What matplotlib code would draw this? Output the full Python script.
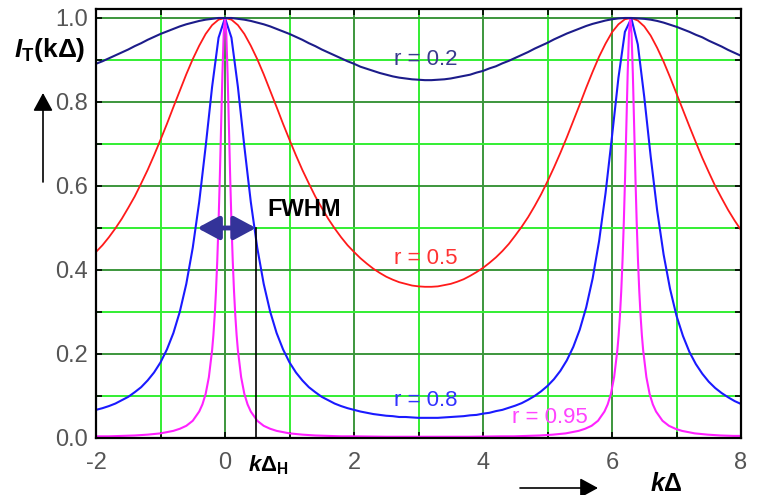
import matplotlib
matplotlib.use("Agg")
import matplotlib.pyplot as plt
import numpy as np
from matplotlib.patches import FancyArrowPatch

plt.rcParams['font.family'] = ['Liberation Sans', 'DejaVu Sans']
plt.rcParams['axes.unicode_minus'] = False
plt.rcParams['mathtext.fontset'] = 'custom'
plt.rcParams['mathtext.rm'] = 'Liberation Sans'
plt.rcParams['mathtext.it'] = 'Liberation Sans:italic'
plt.rcParams['mathtext.bf'] = 'Liberation Sans:bold'
plt.rcParams['mathtext.bfit'] = 'Liberation Sans:bold:italic'

# sample positions (k*Delta) for the three broader curves
k_delta = np.round(np.arange(-2.0, 8.05, 0.1), 1)

t_r02 = [0.891, 0.897, 0.904, 0.911, 0.918, 0.925, 0.933, 0.940, 0.948, 0.955,
         0.962, 0.968, 0.974, 0.980, 0.985, 0.989, 0.993, 0.996, 0.998, 1.000,
         1.000, 1.000, 0.998, 0.996, 0.993, 0.989, 0.985, 0.980, 0.974, 0.968,
         0.962, 0.955, 0.948, 0.940, 0.933, 0.925, 0.918, 0.911, 0.904, 0.897, 0.891,
         0.884, 0.879, 0.874, 0.869, 0.865, 0.861, 0.858, 0.856, 0.854, 0.853,
         0.852, 0.852, 0.853, 0.854, 0.856, 0.859, 0.862, 0.865, 0.870, 0.874,
         0.880, 0.885, 0.892, 0.898, 0.905, 0.912, 0.919, 0.927, 0.934, 0.941,
         0.949, 0.956, 0.963, 0.969, 0.975, 0.981, 0.986, 0.990, 0.994, 0.997,
         0.999, 1.000, 1.000, 0.999, 0.998, 0.996, 0.993, 0.989, 0.984, 0.979,
         0.973, 0.967, 0.960, 0.954, 0.946, 0.939, 0.932, 0.924, 0.917, 0.910]

t_r05 = [0.443, 0.459, 0.478, 0.499, 0.522, 0.548, 0.575, 0.606, 0.638, 0.673,
         0.710, 0.748, 0.788, 0.827, 0.866, 0.902, 0.934, 0.962, 0.983, 0.996,
         1.000, 0.996, 0.983, 0.962, 0.934, 0.902, 0.866, 0.827, 0.788, 0.748,
         0.710, 0.673, 0.638, 0.606, 0.575, 0.548, 0.522, 0.499, 0.478, 0.459, 0.443,
         0.428, 0.415, 0.403, 0.393, 0.384, 0.377, 0.371, 0.367, 0.363, 0.361,
         0.360, 0.360, 0.361, 0.364, 0.367, 0.372, 0.378, 0.386, 0.395, 0.405,
         0.417, 0.430, 0.445, 0.462, 0.482, 0.503, 0.526, 0.552, 0.580, 0.611,
         0.644, 0.679, 0.716, 0.755, 0.794, 0.834, 0.872, 0.908, 0.939, 0.966,
         0.985, 0.997, 1.000, 0.994, 0.980, 0.958, 0.929, 0.896, 0.859, 0.820,
         0.781, 0.742, 0.704, 0.667, 0.633, 0.600, 0.571, 0.543, 0.518, 0.495]

t_r08 = [0.067, 0.071, 0.076, 0.082, 0.090, 0.098, 0.109, 0.121, 0.137, 0.156,
         0.180, 0.211, 0.250, 0.301, 0.367, 0.453, 0.562, 0.694, 0.836, 0.953,
         1.000, 0.953, 0.836, 0.694, 0.562, 0.453, 0.367, 0.301, 0.250, 0.211,
         0.180, 0.156, 0.137, 0.121, 0.109, 0.098, 0.090, 0.082, 0.076, 0.071, 0.067,
         0.063, 0.060, 0.057, 0.055, 0.053, 0.052, 0.050, 0.050, 0.049, 0.048,
         0.048, 0.048, 0.048, 0.049, 0.050, 0.051, 0.052, 0.054, 0.055, 0.058,
         0.060, 0.064, 0.067, 0.072, 0.077, 0.083, 0.091, 0.100, 0.111, 0.124,
         0.140, 0.160, 0.185, 0.217, 0.258, 0.311, 0.380, 0.469, 0.583, 0.718,
         0.858, 0.967, 0.999, 0.937, 0.812, 0.670, 0.542, 0.437, 0.355, 0.291,
         0.243, 0.205, 0.176, 0.153, 0.134, 0.119, 0.107, 0.097, 0.088, 0.081]

# r = 0.95 needs finer sampling around the narrow peaks
k_delta_95 = [-2.0, -1.8, -1.6, -1.4, -1.2, -1.0, -0.9, -0.8, -0.7, -0.6, -0.5, -0.4,
              -0.35, -0.3, -0.25, -0.2, -0.18, -0.16, -0.14, -0.12, -0.1, -0.08, -0.06,
              -0.04, -0.02, 0.0, 0.02, 0.04, 0.06, 0.08, 0.1, 0.12, 0.14, 0.16, 0.18, 0.2,
              0.25, 0.3, 0.35, 0.4, 0.5, 0.6, 0.7, 0.8, 0.9, 1.0, 1.2, 1.4, 1.6, 1.8, 2.0,
              2.5, 3.0,
              3.283, 3.783, 4.283, 4.483, 4.683, 4.883, 5.083, 5.283, 5.383, 5.483, 5.583,
              5.683, 5.783, 5.883, 5.933, 5.983, 6.033, 6.083, 6.103, 6.123, 6.143, 6.163,
              6.183, 6.203, 6.223, 6.243, 6.263, 6.283, 6.303, 6.323, 6.343, 6.363, 6.383,
              6.403, 6.423, 6.443, 6.463, 6.483, 6.533, 6.583, 6.633, 6.683, 6.783, 6.883,
              6.983, 7.083, 7.183, 7.283, 7.483, 7.683, 7.883, 8.0]

t_r095 = [0.004, 0.004, 0.005, 0.006, 0.008, 0.011, 0.014, 0.017, 0.022, 0.029, 0.041, 0.063,
          0.080, 0.105, 0.145, 0.209, 0.245, 0.291, 0.349, 0.422, 0.513, 0.622, 0.745,
          0.868, 0.963, 1.000, 0.963, 0.868, 0.745, 0.622, 0.513, 0.422, 0.349, 0.291, 0.245, 0.209,
          0.145, 0.105, 0.080, 0.063, 0.041, 0.029, 0.022, 0.017, 0.014, 0.011, 0.008, 0.006, 0.005, 0.004, 0.004,
          0.003, 0.003,
          0.003, 0.003, 0.004, 0.004, 0.005, 0.006, 0.008, 0.011, 0.014, 0.017, 0.022,
          0.029, 0.041, 0.063, 0.080, 0.105, 0.145, 0.209, 0.245, 0.291, 0.349, 0.422,
          0.513, 0.622, 0.745, 0.868, 0.963, 1.000, 0.963, 0.868, 0.745, 0.622, 0.513,
          0.422, 0.349, 0.291, 0.245, 0.209, 0.145, 0.105, 0.080, 0.063, 0.041, 0.029,
          0.022, 0.017, 0.014, 0.011, 0.008, 0.006, 0.005, 0.005]

x_ticks = [-2, 0, 2, 4, 6, 8]
x_minor = [-1, 1, 3, 5, 7]
y_ticks = [0.0, 0.2, 0.4, 0.6, 0.8, 1.0]
y_minor = [0.1, 0.3, 0.5, 0.7, 0.9]

W, H = 757, 495
fig = plt.figure(figsize=(W / 100, H / 100), dpi=100)
ax = fig.add_axes([96 / W, 1 - 438 / H, 645 / W, 429 / H])

dark_green = '#3c963c'
lime = '#33ee33'

ax.set_xlim(-2, 8)
ax.set_ylim(0, 1.0214)
ax.set_xticks(x_ticks)
ax.set_xticklabels([str(v) for v in x_ticks])
ax.set_xticks(x_minor, minor=True)
ax.set_yticks(y_ticks)
ax.set_yticklabels([f'{v:.1f}' for v in y_ticks])
ax.set_yticks(y_minor, minor=True)
ax.grid(which='major', color=dark_green, lw=1.4, zorder=0)
ax.grid(which='minor', color=lime, lw=1.4, zorder=0)
ax.set_axisbelow(True)
ax.tick_params(which='both', direction='in', top=True, right=True, length=4,
               width=1.2, color='black')
ax.tick_params(which='major', labelsize=17, labelcolor='#555555')
ax.tick_params(axis='x', pad=10)
ax.tick_params(axis='y', pad=6)
for sp in ax.spines.values():
    sp.set_linewidth(1.6)

ax.plot(k_delta, t_r05, color='#ff1a1a', lw=1.3)
ax.plot(k_delta, t_r08, color='#1a1aff', lw=1.5)
ax.plot(k_delta_95, t_r095, color='#ff22ff', lw=1.5)
ax.plot(k_delta, t_r02, color='#1c1c8a', lw=1.5)

ax.text(3.12, 0.90, 'r = 0.2', color='#3a3a8e', fontsize=16, ha='center', va='center')
ax.text(3.12, 0.428, 'r = 0.5', color='#ff3333', fontsize=16, ha='center', va='center')
ax.text(3.12, 0.09, 'r = 0.8', color='#3333ff', fontsize=16, ha='center', va='center')
ax.text(5.03, 0.049, 'r = 0.95', color='#ff44ff', fontsize=16, ha='center', va='center')

# FWHM marker
ax.add_patch(FancyArrowPatch((-0.43, 0.5), (0.48, 0.5),
                             arrowstyle='<|-|>,head_length=13,head_width=7',
                             mutation_scale=1, lw=3.5, color='#333399',
                             shrinkA=0, shrinkB=0, zorder=5))
ax.plot([0.485, 0.485], [0.5, 0.0], color='black', lw=1.2, zorder=5)

fig.text(304 / W, 1 - 209 / H, 'FWHM', fontsize=17, fontweight='bold',
         ha='center', va='center')
fig.text(268 / W, 1 - 465 / H, r'$\mathbfit{k}\mathbf{\Delta}_{\mathbf{H}}$',
         fontsize=16, ha='center', va='center')
fig.text(50 / W, 1 - 50 / H, r'$\mathbfit{I}_{\mathbf{T}}\mathbf{(k\Delta)}$',
         fontsize=19, ha='center', va='center')
fig.text(666 / W, 1 - 484 / H, r'$\mathbfit{k}\mathbf{\Delta}$',
         fontsize=18, ha='center', va='center')

# axis direction arrows
fig.add_artist(FancyArrowPatch((43 / W, 1 - 182 / H), (43 / W, 1 - 93 / H),
                               transform=fig.transFigure,
                               arrowstyle='-|>,head_length=11,head_width=6',
                               mutation_scale=1, lw=1.2, color='black',
                               shrinkA=0, shrinkB=0))
fig.add_artist(FancyArrowPatch((520 / W, 1 - 488 / H), (598 / W, 1 - 488 / H),
                               transform=fig.transFigure,
                               arrowstyle='-|>,head_length=11,head_width=6',
                               mutation_scale=1, lw=1.2, color='black',
                               shrinkA=0, shrinkB=0))

fig.savefig('out.png', dpi=100)
